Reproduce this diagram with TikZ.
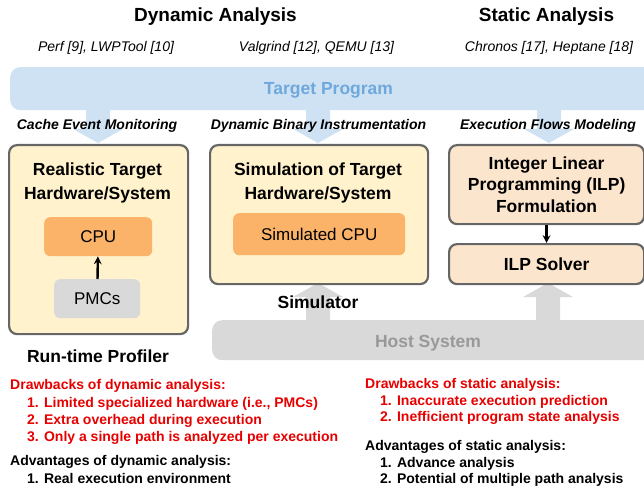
\documentclass[tikz,border=0pt]{standalone}
\usepackage{fontspec}
\setmainfont{Liberation Sans}
\usepackage{xcolor}
\usepackage{tikz}
\usetikzlibrary{
	arrows,shapes
}

\definecolor{bandblue}{HTML}{CFE2F3}
\definecolor{progblue}{HTML}{6FA8DC}
\definecolor{hwyellow}{HTML}{FFF2CC}
\definecolor{cpuorange}{HTML}{FBB36A}
\definecolor{hostgray}{HTML}{D9D9D9}
\definecolor{hosttext}{HTML}{999999}
\definecolor{ilppeach}{HTML}{FCE5CD}
\definecolor{bordergray}{HTML}{666666}
\definecolor{drawred}{HTML}{E60000}

\tikzset{
	box/.style={draw=bordergray,line width=2.2pt,rounded corners=8pt,inner sep=0pt,anchor=north west},
	hwbox/.style={box,fill=hwyellow},
	ilpbox/.style={box,fill=ilppeach,align=center,font=\fontsize{17.5}{21.5}\selectfont\bfseries},
	unitbox/.style={fill=#1,rounded corners=6pt,inner sep=0pt,anchor=north west,font=\fontsize{17}{20}\selectfont},
	band/.style={fill=#1,rounded corners=10pt,inner sep=0pt,anchor=north west},
	heading/.style={inner sep=0pt,anchor=base,font=\fontsize{19}{23}\selectfont\bfseries},
	tool/.style={inner sep=0pt,anchor=base,font=\fontsize{14}{17}\selectfont\itshape},
	method/.style={inner sep=0pt,anchor=base,font=\fontsize{14}{17}\selectfont\bfseries\itshape},
	bigtxt/.style={inner sep=0pt,anchor=base,align=center,font=\fontsize{17.5}{24}\selectfont\bfseries},
	listline/.style={inner sep=0pt,anchor=base west,font=\fontsize{14}{17}\selectfont\bfseries}
}

\begin{document}
\begin{tikzpicture}[x=1pt,y=-1pt]
	\useasboundingbox (0,0) rectangle (644,489);
	\clip (0,0) rectangle (644,489);
	% bands
	\node[band=bandblue,minimum width=660pt,minimum height=43pt] (prog) at (10,67) {};
	\node[band=hostgray,minimum width=450pt,minimum height=40pt] (host) at (212,320) {};
	% block arrows
	\foreach \x in {98,318,549}
		\fill[bandblue] (\x-12,100) -- (\x+12,100) -- (\x+12,129) -- (\x+25,129)
			-- (\x,143) -- (\x-25,129) -- (\x-12,129) -- cycle;
	\foreach \x in {318,548}
		\fill[hostgray] (\x-12,325) -- (\x-12,297) -- (\x-25,297) -- (\x,283)
			-- (\x+25,297) -- (\x+12,297) -- (\x+12,325) -- cycle;
	% boxes
	\node[hwbox,minimum width=179pt,minimum height=189pt] (real) at (8,144) {};
	\node[hwbox,minimum width=218pt,minimum height=139pt] (sim) at (209,144) {};
	\node[ilpbox,minimum width=195pt,minimum height=79pt] (ilp) at (448,144)
		{Integer Linear\\Programming (ILP)\\Formulation};
	\node[ilpbox,minimum width=195pt,minimum height=40pt] (solver) at (448,243) {ILP Solver};
	\node[unitbox=cpuorange,minimum width=108pt,minimum height=39pt] (cpu) at (44,217) {CPU};
	\node[unitbox=hostgray,minimum width=86pt,minimum height=39pt] (pmc) at (54,279) {PMCs};
	\node[unitbox=cpuorange,minimum width=172pt,minimum height=42pt] (simcpu) at (233,213) {Simulated CPU};
	%
	\path[->,>=stealth]
	(pmc) edge[line width=2.4pt] (cpu)
	(ilp) edge[line width=2.4pt] (solver);
	% titles
	\node[heading] (dyn) at (215.5,22) {Dynamic Analysis};
	\node[heading] (stat) at (546.5,22) {Static Analysis};
	\node[tool] (perf) at (106,52) {Perf [9], LWPTool [10]};
	\node[tool] (valg) at (316.5,52) {Valgrind [12], QEMU [13]};
	\node[tool] (chron) at (549,52) {Chronos [17], Heptane [18]};
	\node[bigtxt,text=progblue] (progtxt) at (328.5,95) {Target Program};
	\node[method] (cache) at (97,130) {Cache Event Monitoring};
	\node[method] (dbi) at (318.5,130) {Dynamic Binary Instrumentation};
	\node[method] (flow) at (548,130) {Execution Flows Modeling};
	\node[bigtxt,anchor=center] (realtxt) at (97.5,182.5) {Realistic Target\\Hardware/System};
	\node[bigtxt,anchor=center] (simtxt) at (318,182.5) {Simulation of Target\\Hardware/System};
	\node[bigtxt] (prof) at (98,362) {Run-time Profiler};
	\node[bigtxt] (simr) at (318,308) {Simulator};
	\node[bigtxt,text=hosttext] (hosttxt) at (428,347) {Host System};
	% dynamic analysis notes
	\node[listline,text=drawred] (dd0) at (10,389.5) {Drawbacks of dynamic analysis:};
	\node[listline,text=drawred] (dd1) at (27,407) {1. Limited specialized hardware (i.e., PMCs)};
	\node[listline,text=drawred] (dd2) at (27,424.3) {2. Extra overhead during execution};
	\node[listline,text=drawred] (dd3) at (27,441.7) {3. Only a single path is analyzed per execution};
	\node[listline] (da0) at (10,465.7) {Advantages of dynamic analysis:};
	\node[listline] (da1) at (27,483.3) {1. Real execution environment};
	% static analysis notes
	\node[listline,text=drawred] (sd0) at (365,388.3) {Drawbacks of static analysis:};
	\node[listline,text=drawred] (sd1) at (380,405) {1. Inaccurate execution prediction};
	\node[listline,text=drawred] (sd2) at (380,421.7) {2. Inefficient program state analysis};
	\node[listline] (sa0) at (365,450.7) {Advantages of static analysis:};
	\node[listline] (sa1) at (380,467) {1. Advance analysis};
	\node[listline] (sa2) at (380,483.3) {2. Potential of multiple path analysis};
\end{tikzpicture}
\end{document}
